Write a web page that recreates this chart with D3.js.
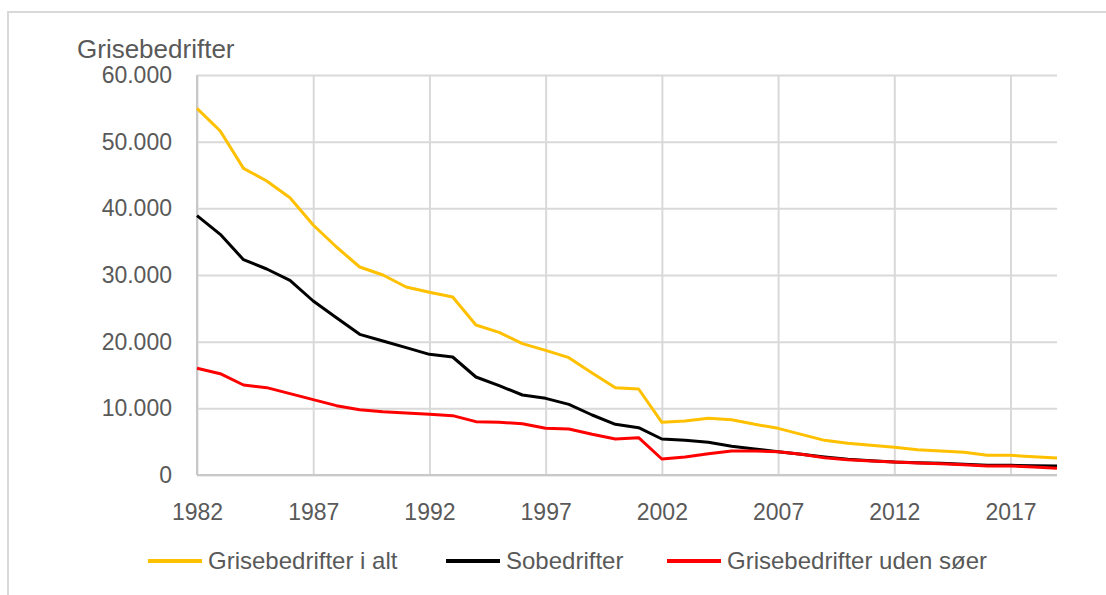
<!DOCTYPE html>
<html>
<head>
<meta charset="utf-8">
<script src="https://cdn.jsdelivr.net/npm/d3@7"></script>
<style>
  body { margin: 0; background: #fff; }
  svg text { font-family: "Liberation Sans", Arial, sans-serif; fill: #595959; }
</style>
</head>
<body>
<svg id="chart" width="1106" height="595"></svg>
<script>
const years = d3.range(1982, 2020);

// Grisebedrifter i alt
const total = [55000, 51600, 46000, 44100, 41600, 37500, 34200, 31200, 30000, 28200,
    27400, 26700, 22500, 21400, 19700, 18700, 17600, 15300, 13100, 12900,
    7900, 8100, 8500, 8300, 7600, 7000, 6100, 5200, 4750, 4450,
    4150, 3800, 3600, 3400, 2950, 2950, 2750, 2550];

// Sobedrifter
const sows = [38900, 36100, 32300, 30900, 29200, 26100, 23600, 21100, 20100, 19100,
    18100, 17700, 14700, 13400, 12000, 11500, 10600, 9000, 7600, 7100,
    5400, 5200, 4900, 4300, 3900, 3500, 3100, 2700, 2350, 2150,
    1950, 1850, 1750, 1600, 1450, 1450, 1400, 1350];

// Grisebedrifter uden søer
const noSows = [16000, 15200, 13500, 13100, 12200, 11300, 10400, 9800, 9500, 9300,
    9100, 8900, 8000, 7900, 7700, 7000, 6900, 6100, 5400, 5600,
    2400, 2700, 3200, 3600, 3600, 3500, 3100, 2600, 2300, 2100,
    1950, 1800, 1700, 1550, 1350, 1350, 1200, 1000];

const xTicks = [1982, 1987, 1992, 1997, 2002, 2007, 2012, 2017];
const yTicks = [0, 10000, 20000, 30000, 40000, 50000, 60000];

const seriesNames = ['Grisebedrifter i alt', 'Sobedrifter', 'Grisebedrifter uden søer'];
const seriesColors = ['#ffc000', '#000000', '#ff0000'];
const seriesValues = [total, sows, noSows];

const svg = d3.select('#chart');

// ydre ramme
svg.append('rect')
    .attr('x', 8).attr('y', 12)
    .attr('width', 1200).attr('height', 700)
    .attr('fill', 'none')
    .attr('stroke', '#d9d9d9')
    .attr('stroke-width', 2);

const plotL = 197, plotR = 1057, plotT = 75, plotB = 475;

const x = d3.scaleLinear().domain([1982, 2019]).range([plotL, plotR]);
const y = d3.scaleLinear().domain([0, 60000]).range([plotB, plotT]);

const fmt = d3.formatLocale({ decimal: ',', thousands: '.', grouping: [3], currency: ['', ' kr.'] }).format(',');

// vandrette gitterlinjer
svg.append('g')
    .attr('transform', `translate(${plotL},0)`)
    .call(d3.axisLeft(y).tickValues(yTicks).tickSize(-(plotR - plotL)).tickFormat(''))
    .call(g => g.select('.domain').remove())
    .call(g => g.selectAll('line').attr('stroke', '#d9d9d9').attr('stroke-width', 2));

// lodrette gitterlinjer
svg.append('g')
    .attr('transform', `translate(0,${plotB})`)
    .call(d3.axisBottom(x).tickValues(xTicks).tickSize(-(plotB - plotT)).tickFormat(''))
    .call(g => g.select('.domain').remove())
    .call(g => g.selectAll('line').attr('stroke', '#d9d9d9').attr('stroke-width', 2));

// akselinjer
svg.append('line')
    .attr('x1', plotL).attr('x2', plotL).attr('y1', plotT).attr('y2', plotB)
    .attr('stroke', '#c8c8c8').attr('stroke-width', 2);
svg.append('line')
    .attr('x1', plotL).attr('x2', plotR).attr('y1', plotB).attr('y2', plotB)
    .attr('stroke', '#c8c8c8').attr('stroke-width', 2);

// y-akse tekst
svg.append('g')
    .attr('transform', `translate(${plotL},0)`)
    .call(d3.axisLeft(y).tickValues(yTicks).tickSize(0).tickPadding(25).tickFormat(fmt))
    .call(g => g.select('.domain').remove())
    .call(g => g.selectAll('text')
        .style('font-family', '"Liberation Sans", Arial, sans-serif')
        .style('font-size', '23px')
        .attr('fill', '#595959'));

// x-akse tekst
svg.append('g')
    .attr('transform', `translate(0,${plotB})`)
    .call(d3.axisBottom(x).tickValues(xTicks).tickSize(0).tickFormat(d3.format('d')))
    .call(g => g.select('.domain').remove())
    .call(g => g.selectAll('text')
        .attr('dy', '0.35em')
        .attr('y', 37)
        .style('font-family', '"Liberation Sans", Arial, sans-serif')
        .style('font-size', '23px')
        .attr('fill', '#595959'));

// titel
svg.append('text')
    .attr('x', 77).attr('y', 58)
    .style('font-size', '26px')
    .text('Grisebedrifter');

// linjer
const line = d3.line()
    .x((d, i) => x(years[i]))
    .y(d => y(d));

svg.selectAll('path.serie')
    .data(seriesValues)
    .enter()
    .append('path')
    .attr('class', 'serie')
    .attr('d', d => line(d))
    .attr('fill', 'none')
    .attr('stroke', (d, i) => seriesColors[i])
    .attr('stroke-width', 3)
    .attr('stroke-linejoin', 'round');

// legende
const legendX = [148, 446, 667];
const legendY = 561;
const legend = svg.selectAll('g.legend')
    .data(seriesNames)
    .enter()
    .append('g')
    .attr('class', 'legend')
    .attr('transform', (d, i) => `translate(${legendX[i]},${legendY})`);

legend.append('line')
    .attr('x1', 0).attr('x2', 54)
    .attr('stroke', (d, i) => seriesColors[i])
    .attr('stroke-width', 4);

legend.append('text')
    .attr('x', 60)
    .attr('dy', '0.35em')
    .style('font-size', '24px')
    .text(d => d);
</script>
</body>
</html>
